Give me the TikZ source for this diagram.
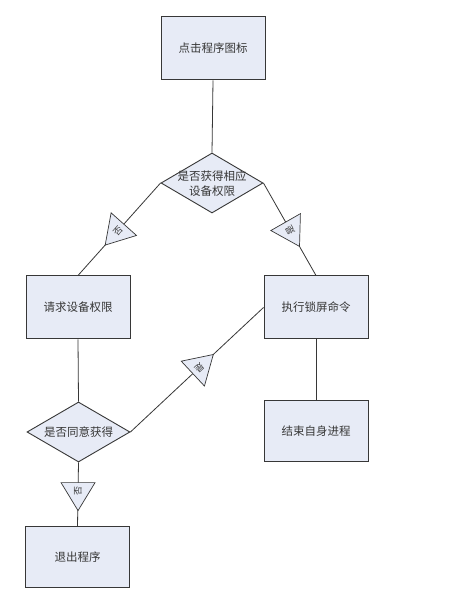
\documentclass[tikz,border=0pt]{standalone}
\usepackage{fontspec}
\newfontfamily\cjk{Noto Sans CJK SC}
\usetikzlibrary{shapes.geometric,calc}
\definecolor{boxfill}{RGB}{231,235,246}
\definecolor{boxline}{RGB}{55,55,55}
\definecolor{txtc}{RGB}{55,55,55}
\begin{document}
\begin{tikzpicture}[x=1pt,y=1pt,
  box/.style={draw=boxline, fill=boxfill, line width=1pt, minimum width=104pt, minimum height=63pt, inner sep=0pt, font=\cjk\fontsize{11.5}{15}\selectfont, text=txtc},
  dec/.style={diamond, draw=boxline, fill=boxfill, line width=0.9pt, minimum width=102pt, minimum height=60pt, inner sep=0pt},
  dtext/.style={font=\cjk\fontsize{11.5}{15}\selectfont, align=center, text=txtc, inner sep=0pt},
  link/.style={draw=boxline, line width=0.8pt},
  tri/.style={draw=boxline, fill=boxfill, line width=0.7pt, line join=miter},
  tritext/.style={font=\cjk\fontsize{9}{10}\selectfont, text=txtc, inner sep=0pt}]
\useasboundingbox (0,0) rectangle (469,596);
\fill[white] (0,0) rectangle (469,596);

% nodes
\node[box] (b1) at (213,547.5) {点击程序图标};
\node[dec] (d1) at (212,413) {};
\node[dtext] (d1t) at (212,412) {是否获得相应\\设备权限};
\node[box] (b2) at (78,288.5) {请求设备权限};
\node[box] (b3) at (316,288.5) {执行锁屏命令};
\node[box, minimum height=61pt] (b4) at (316,164.5) {结束自身进程};
\node[dec, minimum width=103pt] (d2) at (78.5,164) {};
\node[dtext] (d2t) at (78.5,164) {是否同意获得};
\node[box, minimum height=61pt] (b5) at (77.5,38.5) {退出程序};

% connectors
\draw[link] (b1.south) -- (d1.north);
\draw[link] (d1.west) -- (b2.north);
\draw[link] (d1.east) -- (b3.north);
\draw[link] (b3.south) -- (b4.north);
\draw[link] (b2.south) -- (d2.north);
\draw[link] (d2.east) -- (b3.west);
\draw[link] (d2.south) -- (b5.north);

% direction triangles with labels
\begin{scope}[shift={($(d1.west)!0.52!(b2.north)$)}, rotate=228.3]
  \draw[tri] (18.7,0) -- (-9.3,17) -- (-9.3,-17) -- cycle;
  \node[tritext, rotate=48.3] (t1) at (-0.5,0) {否};
\end{scope}
\begin{scope}[shift={($(d1.east)!0.51!(b3.north)$)}, rotate=-60.3]
  \draw[tri] (18.7,0) -- (-9.3,17) -- (-9.3,-17) -- cycle;
  \node[tritext, rotate=119.7] (t2) at (-0.5,0) {是};
\end{scope}
\begin{scope}[shift={($(d2.east)!0.52!(b3.west)$)}, rotate=43]
  \draw[tri] (18.7,0) -- (-9.3,17) -- (-9.3,-17) -- cycle;
  \node[tritext, rotate=223] (t3) at (-0.5,0) {是};
\end{scope}
\begin{scope}[shift={($(d2.south)!0.46!(b5.north)$)}, rotate=-90]
  \draw[tri] (18.7,0) -- (-9.3,17) -- (-9.3,-17) -- cycle;
  \node[tritext, rotate=90] (t4) at (-0.5,0) {否};
\end{scope}
\end{tikzpicture}
\end{document}
